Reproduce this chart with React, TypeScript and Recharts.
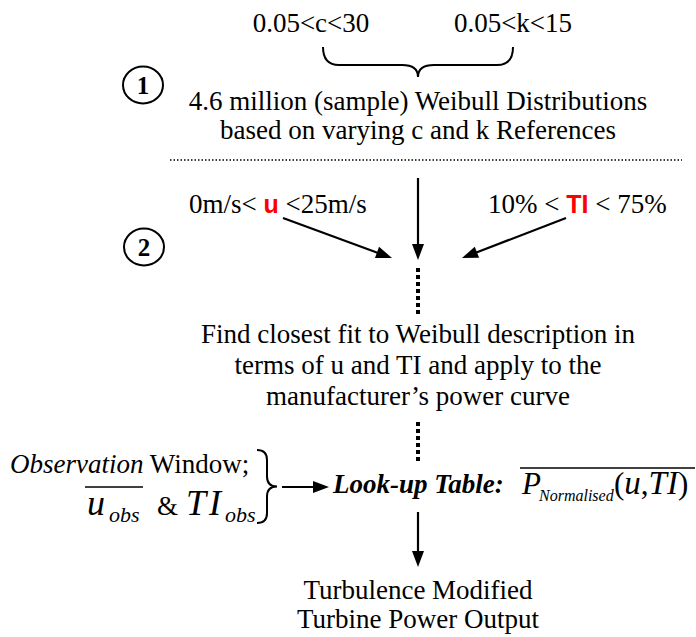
import React from 'react';
import { ScatterChart, Scatter, XAxis, YAxis, ReferenceLine, ReferenceArea } from 'recharts';

const W = 696;
const H = 637;
const SERIF = '"Liberation Serif", "Times New Roman", serif';
const SANS = '"Liberation Sans", Arial, sans-serif';

// ---- diagram content (positions in canvas units of the 696x637 diagram) ----
const textIds = ['cRange', 'kRange', 'title1', 'title2', 'uRange', 'tiRange', 'fit1', 'fit2', 'fit3', 'obs1', 'obs2', 'lookup', 'pnorm', 'out1', 'out2'];
const textX = [311, 513, 418, 418, 189, 488, 418, 418, 418, 10, 87, 333, 522, 418, 418];
const textY = [32, 32, 110, 139, 213, 213, 343, 374, 405, 473, 515, 493, 494, 599, 628];

const titleLines = ['4.6 million (sample) Weibull Distributions', 'based on varying c and k References'];
const fitLines = ['Find closest fit to Weibull description in', 'terms of u and TI and apply to the', 'manufacturer\u2019s power curve'];
const outLines = ['Turbulence Modified', 'Turbine Power Output'];

const stepLabels = ['1', '2'];
const stepX = [143, 144];
const stepY = [85, 247];

const arrowFromX = [283, 418, 566, 282, 418];
const arrowFromY = [218, 178, 218, 487, 512];
const arrowToX = [392, 418, 462, 329, 418];
const arrowToY = [258, 260, 258, 487, 567];

const dotLineX1 = [170, 418, 418];
const dotLineY1 = [160, 268, 422];
const dotLineX2 = [682, 418, 418];
const dotLineY2 = [160, 316, 462];
const dotLineKind = ['fine', 'bold', 'bold'];

const overX1 = [85, 520];
const overX2 = [143, 695];
const overY = [487, 468];

const braceX1 = [323, 257];
const braceX2 = [513, 277];
const braceY1 = [47, 450];
const braceY2 = [77, 523];
const braceDir = ['down', 'right'];

const textData = textIds.map((id, i) => ({ id, x: textX[i], y: textY[i] }));
const stepData = stepLabels.map((label, i) => ({ label, x: stepX[i], y: stepY[i] }));

function TextNode(props: any) {
  const { cx, cy, payload } = props;
  const fs = 27;
  const base = { fontFamily: SERIF, fontSize: fs, fill: '#000' } as any;
  switch (payload.id) {
    case 'cRange':
      return <text x={cx} y={cy} textAnchor="middle" {...base}>0.05&lt;c&lt;30</text>;
    case 'kRange':
      return <text x={cx} y={cy} textAnchor="middle" {...base}>0.05&lt;k&lt;15</text>;
    case 'title1':
      return <text x={cx} y={cy} textAnchor="middle" {...base}>{titleLines[0]}</text>;
    case 'title2':
      return <text x={cx} y={cy} textAnchor="middle" {...base}>{titleLines[1]}</text>;
    case 'uRange':
      return (
        <text x={cx} y={cy} {...base}>
          {'0m/s< '}
          <tspan fill="#ff0000" fontFamily={SANS} fontWeight="bold" fontSize={25}>u</tspan>
          {' <25m/s'}
        </text>
      );
    case 'tiRange':
      return (
        <text x={cx} y={cy} {...base}>
          {'10% < '}
          <tspan fill="#ff0000" fontFamily={SANS} fontWeight="bold" fontSize={25}>TI</tspan>
          {' < 75%'}
        </text>
      );
    case 'fit1':
      return <text x={cx} y={cy} textAnchor="middle" {...base}>{fitLines[0]}</text>;
    case 'fit2':
      return <text x={cx} y={cy} textAnchor="middle" {...base}>{fitLines[1]}</text>;
    case 'fit3':
      return <text x={cx} y={cy} textAnchor="middle" {...base}>{fitLines[2]}</text>;
    case 'obs1':
      return (
        <text x={cx} y={cy} {...base}>
          <tspan fontStyle="italic">Observation</tspan>
          {' Window;'}
        </text>
      );
    case 'obs2':
      return (
        <text x={cx} y={cy} {...base}>
          <tspan x={cx} fontStyle="italic" fontSize={36}>u</tspan>
          <tspan x={cx + 22} dy={7} fontStyle="italic" fontSize={22}>obs</tspan>
          <tspan x={cx + 70} dy={-7} fontSize={27}>&amp;</tspan>
          <tspan x={cx + 99} fontStyle="italic" fontSize={36} letterSpacing={3}>TI</tspan>
          <tspan x={cx + 138} dy={7} fontStyle="italic" fontSize={22}>obs</tspan>
        </text>
      );
    case 'lookup':
      return <text x={cx} y={cy} {...base} fontWeight="bold" fontStyle="italic">Look-up Table:</text>;
    case 'pnorm':
      return (
        <text x={cx} y={cy} {...base} fontSize={31}>
          <tspan x={cx} fontStyle="italic">P</tspan>
          <tspan x={cx + 17} fontStyle="italic" fontSize={16} dy={7}>Normalised</tspan>
          <tspan x={cx + 92} dy={-7}>(</tspan>
          <tspan fontStyle="italic" fontSize={33}>u</tspan>
          <tspan>,</tspan>
          <tspan fontStyle="italic" fontSize={33}>TI</tspan>
          <tspan>)</tspan>
        </text>
      );
    case 'out1':
      return <text x={cx} y={cy} textAnchor="middle" {...base}>{outLines[0]}</text>;
    case 'out2':
      return <text x={cx} y={cy} textAnchor="middle" {...base}>{outLines[1]}</text>;
    default:
      return <g />;
  }
}

function StepNode(props: any) {
  const { cx, cy, payload } = props;
  return (
    <g>
      <ellipse cx={cx} cy={cy} rx={20} ry={18.5} fill="none" stroke="#000" strokeWidth={2} />
      <text x={cx} y={cy + 8.5} textAnchor="middle" fontFamily={SERIF} fontWeight="bold" fontSize={25} fill="#000">
        {payload.label}
      </text>
    </g>
  );
}

function ArrowShape(props: any) {
  const { x1, y1, x2, y2 } = props;
  const dx = x2 - x1;
  const dy = y2 - y1;
  const len = Math.hypot(dx, dy) || 1;
  const ux = dx / len;
  const uy = dy / len;
  const hl = 16;
  const hw = 6;
  const bx = x2 - ux * hl;
  const by = y2 - uy * hl;
  const px = -uy;
  const py = ux;
  return (
    <g>
      <line x1={x1} y1={y1} x2={bx + ux * 2} y2={by + uy * 2} stroke="#000" strokeWidth={2.2} />
      <polygon points={`${x2},${y2} ${bx + px * hw},${by + py * hw} ${bx - px * hw},${by - py * hw}`} fill="#000" />
    </g>
  );
}

function makeDotShape(kind: string) {
  return (props: any) => {
    const { x1, y1, x2, y2 } = props;
    if (kind === 'fine') {
      return <line x1={x1} y1={y1} x2={x2} y2={y2} stroke="#000" strokeWidth={1.5} strokeDasharray="1.5 2" />;
    }
    return <line x1={x1} y1={y1} x2={x2} y2={y2} stroke="#000" strokeWidth={4} strokeDasharray="4 3" />;
  };
}

function OverShape(props: any) {
  const { x1, y1, x2, y2 } = props;
  return <line x1={x1} y1={y1} x2={x2} y2={y2} stroke="#000" strokeWidth={1.5} />;
}

function makeBraceShape(dir: string) {
  return (props: any) => {
    const { x, y, width, height } = props;
    let d = '';
    if (dir === 'down') {
      const x0 = x;
      const x1 = x + width;
      const c = x + width / 2;
      const ym = y + height * 0.6;
      const q = 16;
      d = `M ${x0} ${y} Q ${x0} ${ym} ${x0 + q} ${ym} L ${c - q} ${ym} Q ${c} ${ym} ${c} ${y + height} Q ${c} ${ym} ${c + q} ${ym} L ${x1 - q} ${ym} Q ${x1} ${ym} ${x1} ${y}`;
    } else {
      const y0 = y;
      const y1 = y + height;
      const c = y + height / 2;
      const xm = x + width * 0.5;
      const q = 10;
      d = `M ${x} ${y0} Q ${xm} ${y0} ${xm} ${y0 + q} L ${xm} ${c - q} Q ${xm} ${c} ${x + width} ${c} Q ${xm} ${c} ${xm} ${c + q} L ${xm} ${y1 - q} Q ${xm} ${y1} ${x} ${y1}`;
    }
    return <path d={d} fill="none" stroke="#000" strokeWidth={2} />;
  };
}

export default function App() {
  return (
    <div style={{ position: 'absolute', left: 0, top: 0, width: W, height: H, background: '#fff' }}>
      <ScatterChart width={W} height={H} margin={{ top: 0, right: 0, bottom: 0, left: 0 }}>
        <XAxis type="number" dataKey="x" domain={[0, W]} allowDataOverflow hide />
        <YAxis type="number" dataKey="y" domain={[0, H]} allowDataOverflow reversed hide />
        {braceX1.map((bx, i) => (
          <ReferenceArea
            key={'brace' + i}
            x1={bx}
            x2={braceX2[i]}
            y1={braceY1[i]}
            y2={braceY2[i]}
            ifOverflow="visible"
            shape={makeBraceShape(braceDir[i])}
          />
        ))}
        {dotLineX1.map((lx, i) => (
          <ReferenceLine
            key={'dot' + i}
            segment={[{ x: lx, y: dotLineY1[i] }, { x: dotLineX2[i], y: dotLineY2[i] }]}
            ifOverflow="visible"
            shape={makeDotShape(dotLineKind[i])}
          />
        ))}
        {overX1.map((ox, i) => (
          <ReferenceLine
            key={'over' + i}
            segment={[{ x: ox, y: overY[i] }, { x: overX2[i], y: overY[i] }]}
            ifOverflow="visible"
            shape={OverShape}
          />
        ))}
        {arrowFromX.map((ax, i) => (
          <ReferenceLine
            key={'arrow' + i}
            segment={[{ x: ax, y: arrowFromY[i] }, { x: arrowToX[i], y: arrowToY[i] }]}
            ifOverflow="visible"
            shape={ArrowShape}
          />
        ))}
        <Scatter data={textData} isAnimationActive={false} shape={TextNode} />
        <Scatter data={stepData} isAnimationActive={false} shape={StepNode} />
      </ScatterChart>
    </div>
  );
}
